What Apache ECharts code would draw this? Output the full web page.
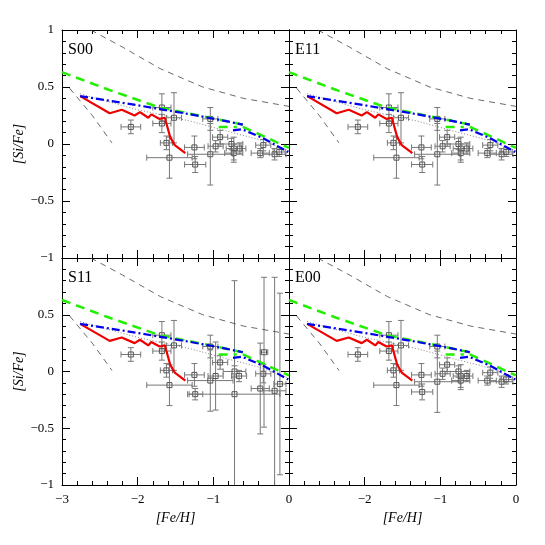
<!DOCTYPE html>
<html><head><meta charset="utf-8">
<script src="https://cdn.jsdelivr.net/npm/echarts@6/dist/echarts.min.js"></script>
</head><body style="margin:0">
<div id="main" style="width:545px;height:545px"></div>
<script>
// panel names
var panelNames = ['S00', 'E11', 'S11', 'E00'];

// model curves (same in all panels)
var redLine = [[-2.76,0.42],[-2.37,0.27],[-2.21,0.30],[-2.04,0.25],[-1.97,0.28],[-1.86,0.23],[-1.82,0.26],[-1.71,0.22],[-1.64,0.23],[-1.62,0.18],[-1.57,0.06],[-1.51,-0.01],[-1.37,-0.08]];
var blueLine1 = [[-2.76,0.42],[-2.0,0.34],[-1.3,0.26],[-0.9,0.21],[-0.61,0.17]];
var blueLine2 = [[-0.74,0.12],[-0.62,0.13],[-0.34,0.05],[-0.01,-0.07]];
var greenLine1 = [[-3.0,0.63],[-2.4,0.48],[-1.71,0.32],[-1.04,0.23],[-0.61,0.17]];
var greenLine2 = [[-0.93,0.15],[-0.69,0.15]];
var greenLine3 = [[-0.61,0.15],[-0.34,0.07],[0,-0.035]];
var dashUpper = [[-2.62,1.0],[-2.2,0.85],[-1.7,0.66],[-1.14,0.5],[-0.6,0.4],[0,0.33]];
var dashLower = [[-2.9,0.49],[-2.6,0.25],[-2.34,0.01]];
var dotLine = [[-2.76,0.44],[-2.0,0.3],[-1.3,0.2],[-0.75,0.1],[-0.4,0.04],[0,-0.06]];

// observed stars: [x, y, xerr, yerr]
var starsBase = [
  [-2.09,0.15,0.13,0.06],[-1.68,0.32,0.12,0.12],[-1.68,0.18,0.12,0.08],[-1.52,0.23,0.1,0.22],
  [-1.62,0.01,0.08,0.06],[-1.58,-0.12,0.3,0.18],[-1.25,-0.03,0.13,0.1],[-1.24,-0.18,0.14,0.07],
  [-1.04,-0.09,0.3,0.27],[-1.04,0.22,0.1,0.1],[-0.91,0.06,0.1,0.06],[-0.97,-0.02,0.1,0.05],
  [-0.76,0.0,0.15,0.05],[-0.73,-0.04,0.1,0.1],[-0.73,-0.08,0.12,0.08],[-0.65,-0.04,0.08,0.05],
  [-0.38,-0.08,0.12,0.04],[-0.34,-0.01,0.1,0.05],[-0.19,-0.09,0.15,0.05],[-0.13,-0.07,0.08,0.04]
];
var starsS11 = [
  [-2.09,0.15,0.13,0.06],[-1.68,0.32,0.12,0.12],[-1.68,0.18,0.12,0.08],[-1.52,0.23,0.1,0.22],
  [-1.62,0.01,0.08,0.06],[-1.58,-0.12,0.3,0.18],[-1.25,-0.03,0.13,0.1],[-1.24,-0.2,0.1,0.05],
  [-1.04,-0.08,0.3,0.27],[-1.04,0.22,0.1,0.1],[-0.91,0.08,0.1,0.06],[-0.97,-0.04,0.1,0.3],
  [-0.72,0.0,0.15,0.05],[-0.72,-0.2,0.6,1.0],[-0.66,-0.04,0.1,0.05],[-0.33,0.17,0.05,0.66],
  [-0.34,-0.02,0.1,0.08],[-0.38,-0.15,0.12,0.4],[-0.19,-0.17,0.15,1.0],[-0.12,-0.11,0.08,0.8]
];
var panelStars = [starsBase, starsBase, starsS11, starsBase];

var grids = [
  {left:62, top:30, width:227, height:228},
  {left:289, top:30, width:227, height:228},
  {left:62, top:258, width:227, height:227},
  {left:289, top:258, width:227, height:227}
];

var xAxes = [], yAxes = [], series = [], graphics = [];
var font = 'Liberation Serif';

for (var p = 0; p < 4; p++) {
  var bottom = p >= 2, left = p % 2 == 0;
  (function(bottom, left) {
  ['bottom','top'].forEach(function(pos) {
    xAxes.push({
      gridIndex: p, type: 'value', min: -3, max: 0, interval: 1, position: pos,
      axisLine: {show: true, onZero: false, lineStyle: {color: '#000'}},
      axisTick: {inside: true, length: 8, lineStyle: {color: '#000'}},
      minorTick: {show: true, splitNumber: 5, length: 4, lineStyle: {color: '#000'}},
      splitLine: {show: false},
      axisLabel: {show: pos == 'bottom' && bottom, color: '#000', fontFamily: font, fontSize: 13,
        showMinLabel: true, showMaxLabel: true, hideOverlap: false,
        formatter: function(v) { return (!left && v == -3) ? '' : String(v).replace('-', '\u2212'); }},
      name: (pos == 'bottom' && bottom) ? '[Fe/H]' : '', nameLocation: 'middle', nameGap: 26,
      nameTextStyle: {fontFamily: font, fontStyle: 'italic', fontSize: 14, color: '#000'}
    });
  });
  ['left','right'].forEach(function(pos) {
    yAxes.push({
      gridIndex: p, type: 'value', min: -1, max: 1, interval: 0.5, position: pos,
      axisLine: {show: true, onZero: false, lineStyle: {color: '#000'}},
      axisTick: {inside: true, length: 8, lineStyle: {color: '#000'}},
      minorTick: {show: true, splitNumber: 5, length: 4, lineStyle: {color: '#000'}},
      splitLine: {show: false},
      axisLabel: {show: pos == 'left' && left, color: '#000', fontFamily: font, fontSize: 13,
        showMinLabel: true, showMaxLabel: true, hideOverlap: false,
        formatter: function(v) { return (bottom && v == 1) ? '' : String(v).replace('-', '\u2212'); }},
      name: (pos == 'left' && left) ? '[Si/Fe]' : '', nameLocation: 'middle', nameGap: 30,
      nameTextStyle: {fontFamily: font, fontStyle: 'italic', fontSize: 14, color: '#000'}
    });
  });
  })(bottom, left);
  var xi = p * 2, yi = p * 2;
  function ln(data, color, width, type) {
    series.push({type: 'line', xAxisIndex: xi, yAxisIndex: yi, data: data, showSymbol: false,
      silent: true, lineStyle: {color: color, width: width, type: type}});
  }
  (function(stars) {
    series.push({
      type: 'custom', xAxisIndex: xi, yAxisIndex: yi, data: stars, silent: true, clip: true,
      renderItem: function(params, api) {
        var x = api.value(0), y = api.value(1), ex = api.value(2), ey = api.value(3);
        var c = api.coord([x, y]), l = api.coord([x - ex, y]), r = api.coord([x + ex, y]);
        var t = api.coord([x, y + ey]), b = api.coord([x, y - ey]);
        var st = {stroke: '#777', lineWidth: 1, fill: null};
        return {type: 'group', children: [
          {type: 'line', shape: {x1: l[0], y1: c[1], x2: r[0], y2: c[1]}, style: st},
          {type: 'line', shape: {x1: c[0], y1: t[1], x2: c[0], y2: b[1]}, style: st},
          {type: 'line', shape: {x1: l[0], y1: c[1]-3, x2: l[0], y2: c[1]+3}, style: st},
          {type: 'line', shape: {x1: r[0], y1: c[1]-3, x2: r[0], y2: c[1]+3}, style: st},
          {type: 'line', shape: {x1: c[0]-3, y1: t[1], x2: c[0]+3, y2: t[1]}, style: st},
          {type: 'line', shape: {x1: c[0]-3, y1: b[1], x2: c[0]+3, y2: b[1]}, style: st},
          {type: 'rect', shape: {x: c[0]-2.5, y: c[1]-2.5, width: 5, height: 5}, style: {stroke: '#555', fill: null, lineWidth: 1}}
        ]};
      }
    });
  })(panelStars[p]);
  ln(dashUpper, '#444', 0.8, [6, 5]);
  ln(dashLower, '#444', 0.8, [6, 5]);
  ln(dotLine, '#666', 0.8, [1, 2]);
  ln(redLine, '#ee0000', 2.2, 'solid');
  ln(greenLine1, '#22ee00', 2.5, [9, 6]);
  ln(greenLine2, '#22ee00', 2.5, [9, 6]);
  ln(greenLine3, '#22ee00', 2.5, [9, 6]);
  ln(blueLine1, '#0000ee', 2.2, [8, 3, 2, 3]);
  ln(blueLine2, '#0000ee', 2.2, [8, 3, 2, 3]);
  graphics.push({type: 'text', left: grids[p].left + 6, top: grids[p].top + 12,
    style: {text: panelNames[p], font: '16px "Liberation Serif"', fill: '#000'}});
}

var myChart = echarts.init(document.getElementById('main'));
myChart.setOption({
  animation: false,
  backgroundColor: '#fff',
  grid: grids,
  xAxis: xAxes,
  yAxis: yAxes,
  series: series,
  graphic: graphics
});
</script>
</body></html>
